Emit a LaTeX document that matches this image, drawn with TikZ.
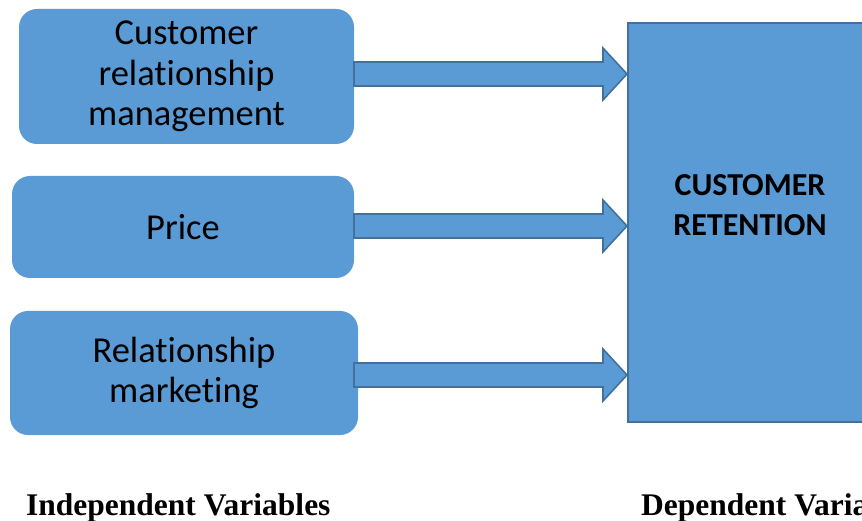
\documentclass[tikz,border=0pt]{standalone}
\usepackage{fontspec}
\setmainfont[RawFeature=-liga]{Carlito}
\newfontfamily\timesf{Liberation Serif}
\usetikzlibrary{calc}
\definecolor{boxblue}{HTML}{5B9BD5}
\definecolor{edgeblue}{HTML}{41719C}
\tikzset{
  ivbox/.style={fill=boxblue, draw=none, rounded corners=18pt, inner sep=0pt,
    align=center, font=\fontsize{36.5}{40.5}\selectfont},
  dvbox/.style={fill=boxblue, draw=edgeblue, line width=1.6pt, inner sep=0pt},
  fat/.style={fill=boxblue, draw=edgeblue, line width=1.6pt, line join=miter},
  caption/.style={font=\timesf\bfseries\fontsize{31.5}{36}\selectfont, inner sep=0pt, anchor=base west}
}
\begin{document}
\begin{tikzpicture}[x=1pt,y=-1pt]
\useasboundingbox (0,0) rectangle (862,521);
\node[ivbox, minimum width=335pt, minimum height=135pt] (b1) at (186.5,76.5) {Customer\\relationship\\management};
\node[ivbox, minimum width=342pt, minimum height=102pt] (b2) at (183,227) {Price};
\node[ivbox, minimum width=348pt, minimum height=124pt] (b3) at (184,373) {Relationship\\marketing};
\node[dvbox, minimum width=253pt, minimum height=399pt, anchor=north west] (R) at (627,22) {};
\node[font=\bfseries\fontsize{32}{40}\selectfont, align=center, inner sep=0pt] (Rt) at (750,205) {CUSTOMER\\RETENTION};
\foreach \b/\dy in {b1/-2.5, b2/-1, b3/2}{
  \draw[fat] let \p1=(\b.east), \p2=(R.west) in
    (354pt,\y1-\dy pt+12pt) -- (\x2-24pt,\y1-\dy pt+12pt) -- (\x2-24pt,\y1-\dy pt+26pt) --
    (\x2,\y1-\dy pt) -- (\x2-24pt,\y1-\dy pt-26pt) -- (\x2-24pt,\y1-\dy pt-12pt) --
    (354pt,\y1-\dy pt-12pt) -- cycle;
}
\node[caption] (c1) at (26,515) {Independent Variables};
\node[caption] (c2) at (641,515) {Dependent Variables};
\end{tikzpicture}
\end{document}
